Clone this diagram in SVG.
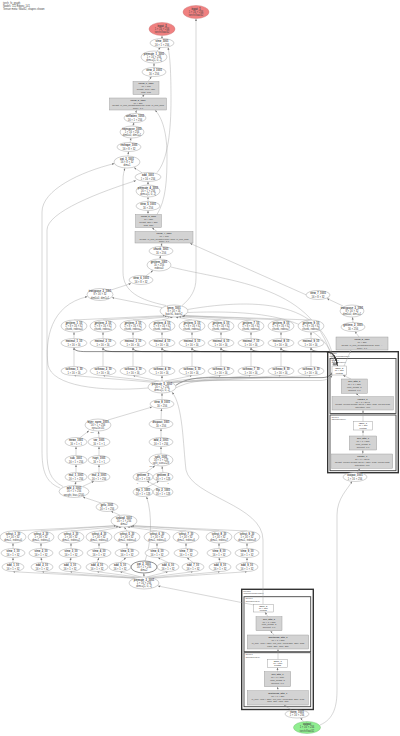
<svg xmlns="http://www.w3.org/2000/svg" width="400" height="736" viewBox="0 0 400 736">
<defs>
<marker id="a" viewBox="0 0 10 10" refX="10" refY="5" markerWidth="2.4" markerHeight="2.4" markerUnits="userSpaceOnUse" orient="auto"><path d="M0,1 L10,5 L0,9z" fill="#777"/></marker>
</defs>
<style>
text{font-family:"Liberation Sans",Arial,sans-serif;font-size:2.6px;fill:#444;text-anchor:middle}
.t{font-weight:bold}
.s{font-size:2.3px}
.e{fill:#fff;stroke:#999;stroke-width:.45}
.g{fill:#d3d3d3;stroke:#999;stroke-width:.45}
.r{fill:#f08080;stroke:#c77;stroke-width:.45}
.o{fill:#90ee90;stroke:#7b7;stroke-width:.45}
.bd{stroke:#555;stroke-width:.65}
.cl{fill:none;stroke:#444;stroke-width:.9}
.co{fill:none;stroke:#333;stroke-width:1.4}
.lab{text-anchor:start;font-size:2.1px}
.hd{text-anchor:start;font-size:2.6px}
#edges path{fill:none;stroke:#999;stroke-width:.4;marker-end:url(#a)}
#edges path.k{stroke:#333;stroke-width:.55}
.el{font-size:2px;fill:#555}
</style>
<rect width="400" height="736" fill="#fff"/>
<g id="header">
<text class="hd" x="3" y="3.5">torch_fx_graph</text>
<text class="hd" x="3" y="6.5">Nodes: 112  Edges: 141</text>
<text class="hd" x="3" y="9.5">Tensor meta: float32, shapes shown</text>
</g>
<g id="clusters">
<rect class="co" x="327.7" y="351.7" width="70.6" height="121"/>
<text class="lab" x="329.3" y="354.4">encoder</text>
<text class="lab" x="329.3" y="356.6">(TransformerEncoder)</text>
<rect class="cl" x="330" y="358.5" width="66" height="55"/>
<text class="lab" x="331.5" y="361.2">layers.0</text>
<text class="lab" x="331.5" y="363.4">(EncoderLayer)</text>
<rect class="cl" x="330" y="415" width="66" height="55.7"/>
<text class="lab" x="331.5" y="417.8">layers.1</text>
<text class="lab" x="331.5" y="420">(EncoderLayer)</text>
<rect class="co" x="241.7" y="589.3" width="71.6" height="120.2"/>
<text class="lab" x="243.3" y="592">decoder</text>
<text class="lab" x="243.3" y="594.2">(TransformerDecoder)</text>
<rect class="cl" x="244" y="596.7" width="66.7" height="55"/>
<text class="lab" x="245.5" y="599.4">layers.0</text>
<text class="lab" x="245.5" y="601.6">(DecoderLayer)</text>
<rect class="cl" x="244" y="652.7" width="66.7" height="54"/>
<text class="lab" x="245.5" y="655.4">layers.1</text>
<text class="lab" x="245.5" y="657.6">(DecoderLayer)</text>
</g>
<g id="edges">
<path d="M162,38.5 L162,35.8"/>
<path d="M157,51.2 L160.5,47.3"/>
<path d="M154,67.5 L154,63.2"/>
<path d="M148,81.5 L151.5,76.5"/>
<path d="M141,98 L144.5,94.5"/>
<path d="M135.5,113.5 L136.5,110.2"/>
<path d="M133,126 L134,122.5"/>
<path d="M130,142.5 L131,138"/>
<path d="M128,156 L128.5,151.5"/>
<path d="M142,172.8 L134,167.5"/>
<path d="M148,185 L148,181.5"/>
<path d="M148,201.5 L148,197"/>
<path d="M148,214.5 L148,210.5"/>
<path d="M157,231.5 L152,227.7"/>
<path d="M161,246.5 L162,243.2"/>
<path d="M160,259 L160.5,255.5"/>
<path d="M146,275.8 L153,270.5"/>
<path d="M111,290 L131,283.5"/>
<path d="M162,307.6 L112,297.6"/>
<path d="M182,305.6 C191,298 196,290 196,278 L196,18.6"/>
<path d="M157,172.6 C168,160 171,130 171,100 C171,72 170,56 168,47.4"/>
<path d="M157,214.5 C166,200 167,180 167,155 C167,128 160,115 155,110.2"/>
<path d="M166,305.5 C140,300 123,292 123,272 L123,180 C123,175 124,171 125,168.2"/>
<path d="M60,488 C45,482 42,470 42,450 L42,212 C42,190 80,172 114.5,163.5"/>
<path d="M63,486.5 C50,480 47,470 47,452 L47,230 C47,212 100,192 136,180.6"/>
<path d="M148,388 C100,392 52,386 48,365 C45,340 50,305 87.5,296.6"/>
<path d="M306.5,295 L190,243.3"/>
<path d="M343,306 L327,298.5"/>
<path d="M353,322.5 L352.5,317.2"/>
<path d="M359,337 L355,331.4"/>
<path d="M344,366 L351,350.2"/>
<path d="M351,379 L343,375.2"/>
<path d="M360,396.7 L356,393.5"/>
<path d="M363,421.7 L363,410.2"/>
<path d="M363,436 L363,430.2"/>
<path d="M362.5,454 L363,450.2"/>
<path d="M357,472.6 L360,468.5"/>
<path d="M320,725 C334,719 337,706 337,690 L337,515 C337,498 348,489 352,481.3"/>
<path d="M268,616.7 L265,612.2"/>
<path d="M274,635 L270.5,630.9"/>
<path d="M278,659.3 L278,649.2"/>
<path d="M277.5,671.7 L277.5,667.5"/>
<path d="M278,690.7 L277.5,686.9"/>
<path d="M292,710.3 L284,705.2"/>
<path d="M303.5,721.6 L300.5,717.8"/>
<path d="M254,605 L158,586"/>
<path d="M263,604.3 L263,540 C263,505 192,497 186,470 C183,445 183,405 172,392.2"/>
<path class="k" d="M74,347.5 C74,350.5 78,351.6 86,351.6 L326,351.6 C332,351.6 336,356 337.5,365.8"/>
<path class="k" d="M103,347.5 C103,350.5 107,351.6 115,351.6 L326,351.6 C332,351.6 336,356 337.5,365.8"/>
<path class="k" d="M133,347.5 C133,350.5 137,351.6 145,351.6 L326,351.6 C332,351.6 336,356 337.5,365.8"/>
<path class="k" d="M162,347.5 C162,350.5 166,351.6 174,351.6 L326,351.6 C332,351.6 336,356 337.5,365.8"/>
<path class="k" d="M192,347.5 C192,350.5 196,351.6 204,351.6 L326,351.6 C332,351.6 336,356 337.5,365.8"/>
<path class="k" d="M221,347.5 C221,350.5 225,351.6 233,351.6 L326,351.6 C332,351.6 336,356 337.5,365.8"/>
<path class="k" d="M251,347.5 C251,350.5 255,351.6 263,351.6 L326,351.6 C332,351.6 336,356 337.5,365.8"/>
<path class="k" d="M281,347.5 C281,350.5 285,351.6 293,351.6 L326,351.6 C332,351.6 336,356 337.5,365.8"/>
<path class="k" d="M311,347.5 C311,350.5 315,351.6 321,351.6 L326,351.6 C332,351.6 336,356 337.5,365.8"/>
<path d="M187.5,309.5 C260,297 328,302 334.5,365.8"/>
<path d="M187.5,312.5 C255,310 326,315 335.5,365.8"/>
<path d="M171,267 C230,282 318,284 333.5,365.8"/>
<path class="k" d="M175.5,385.5 C186,378.5 196,377.6 215,377.6 L322,377.6 C328,377.6 331,375 332,372.5"/>
<path d="M175.5,388 C190,381 200,380.5 220,380.5 L320,380.5 C327,380.5 331,377 332.2,375.2"/>
<path d="M74,320 L165,315.6"/>
<path d="M103,320 L167,316.2"/>
<path d="M133,320 L169.9,316.7"/>
<path d="M162,320 L172.8,317"/>
<path d="M192,320 L175.8,317"/>
<path d="M221,320 L178.7,316.6"/>
<path d="M251,320 L181.7,316"/>
<path d="M281,320 L183,315.6"/>
<path d="M311,320 L183,315.6"/>
<path d="M74,338.5 L74,332.2"/>
<path d="M103,338.5 L103,332.2"/>
<path d="M133,338.5 L133,332.2"/>
<path d="M162,338.5 L162,332.2"/>
<path d="M192,338.5 L192,332.2"/>
<path d="M221,338.5 L221,332.2"/>
<path d="M251,338.5 L251,332.2"/>
<path d="M281,338.5 L281,332.2"/>
<path d="M311,338.5 L311,332.2"/>
<path d="M74,366.5 L74,347.7"/>
<path d="M103,366.5 L103,347.7"/>
<path d="M133,366.5 L133,347.7"/>
<path d="M162,366.5 L162,347.7"/>
<path d="M192,366.5 L192,347.7"/>
<path d="M221,366.5 L221,347.7"/>
<path d="M251,366.5 L251,347.7"/>
<path d="M281,366.5 L281,347.7"/>
<path d="M311,366.5 L311,347.7"/>
<path d="M153.2,382.3 L74,375.6"/>
<path d="M156.1,381.6 L103,375.6"/>
<path d="M159.1,381.1 L133,375.6"/>
<path d="M162,381 L162,375.6"/>
<path d="M165,381.1 L192,375.6"/>
<path d="M167.9,381.6 L221,375.6"/>
<path d="M170.9,382.4 L251,375.6"/>
<path d="M171,382.4 L281,375.6"/>
<path d="M171,382.4 L311,375.6"/>
<path d="M162,399.5 L162,393.2"/>
<path d="M108,420 L152,407"/>
<path d="M161,419.5 L161.5,408.7"/>
<path d="M80,437.7 L89,430.7"/>
<path d="M99,437.5 L98.5,431.2"/>
<path d="M161,437.5 L161,428.7"/>
<path d="M76,455.5 L76,446.7"/>
<path d="M99,455.5 L99,446.7"/>
<path d="M161,454 L161,446.7"/>
<path d="M76,472.5 L76,464.7"/>
<path d="M99,472.5 L99,464.7"/>
<path d="M146,472.7 L155,465.7"/>
<path d="M163,472.5 L162,466.2"/>
<path d="M75,485.5 L76,481.7"/>
<path d="M83,486.3 L94,481.2"/>
<path d="M146,487.8 L159,481"/>
<path d="M160,487.8 L147,481"/>
<path d="M101,503 L83,497"/>
<path d="M120,515.2 L111,511.2"/>
<path d="M13,531 L116,525.7"/>
<path d="M41,531 L116,525.7"/>
<path d="M71,531 L118.7,526.5"/>
<path d="M99,531 L121.5,526.9"/>
<path d="M127,531 L124.3,527.1"/>
<path d="M157,531 L127.3,526.8"/>
<path d="M186,531 L130.2,526.3"/>
<path d="M219,531 L132,525.7"/>
<path d="M247,531 L132,525.7"/>
<path d="M13,548.5 L13,543.2"/>
<path d="M41,548.5 L41,543.2"/>
<path d="M71,548.5 L71,543.2"/>
<path d="M99,548.5 L99,543.2"/>
<path d="M127,548.5 L127,543.2"/>
<path d="M157,548.5 L157,543.2"/>
<path d="M186,548.5 L186,543.2"/>
<path d="M219,548.5 L219,543.2"/>
<path d="M247,548.5 L247,543.2"/>
<path d="M13,562.5 L13,557.7"/>
<path d="M42,562.5 L41,557.7"/>
<path d="M70,562.5 L71,557.7"/>
<path d="M97,562.5 L99,557.7"/>
<path d="M120,562.5 L126,557.7"/>
<path d="M168,562.5 L158,557.7"/>
<path d="M193,562.5 L187,557.7"/>
<path d="M220,562.5 L219,557.7"/>
<path d="M247,562.5 L247,557.7"/>
<path d="M135,578.2 L13,571.7"/>
<path d="M135,578.2 L42,571.7"/>
<path d="M136.6,577.8 L70,571.7"/>
<path d="M139.3,577.3 L97,571.7"/>
<path d="M141.6,577.1 L120,571.7"/>
<path d="M146.4,577.1 L168,571.7"/>
<path d="M148.9,577.3 L193,571.7"/>
<path d="M151.6,577.8 L220,571.7"/>
<path d="M153,578.2 L247,571.7"/>
<path d="M144,577 L143.8,573.3"/>
<path d="M145,561 C151,545 153,515 146.5,496.7"/>
<text class="el" x="92" y="433">self</text>
<text class="el" x="151" y="467">dim</text>
<text class="el" x="137.5" y="484">0</text>
<text class="el" x="168" y="484">1</text>
</g>
<g id="input_1"><ellipse class="r" cx="196" cy="12" rx="13" ry="6.5"/><text class="t" x="196" y="9.8">input_1</text><text x="196" y="12.9">1 × 16 × 256</text><text x="196" y="16">torch.float32</text></g>
<g id="input_2"><ellipse class="r" cx="162" cy="29" rx="13" ry="6.5"/><text class="t" x="162" y="26.8">input_2</text><text x="162" y="29.9">1 × 16 × 256</text><text x="162" y="33">torch.float32</text></g>
<g id="view_1001"><ellipse class="e" cx="162" cy="43" rx="12" ry="4.5"/><text class="t" x="162" y="42.4">view_1001</text><text x="162" y="45.5">16 × 1 × 256</text></g>
<g id="permute_1_1001"><ellipse class="e" cx="154" cy="57" rx="13" ry="6"/><text class="t" x="154" y="54.8">permute_1_1001</text><text x="154" y="57.9">1 × 16 × 256</text><text x="154" y="61">dims=[1, 0, 2]</text></g>
<g id="view_2_1001"><ellipse class="e" cx="154" cy="72" rx="12" ry="4.5"/><text class="t" x="154" y="71.4">view_2_1001</text><text x="154" y="74.5">16 × 256</text></g>
<g id="linear_1_1001"><rect class="g" x="133" y="81.5" width="26" height="13"/><text class="t s" x="146" y="84.4">linear_1_1001</text><text class="s" x="146" y="87.3">16 × 768</text><text class="s" x="146" y="90.2">weight=768 × 256</text><text class="s" x="146" y="93.1">bias=768</text></g>
<g id="linear_2_1001"><rect class="g" x="109.5" y="98" width="57" height="12"/><text class="t s" x="138" y="100.7">linear_2_1001</text><text class="s" x="138" y="103.5">16 × 256</text><text class="s" x="138" y="106.3">weight=in_proj_weight[512:768], bias=in_proj_bias</text><text class="s" x="138" y="109.1">scale=1.0</text></g>
<g id="unflatten_1001"><ellipse class="e" cx="135" cy="118" rx="11" ry="4.5"/><text class="t" x="135" y="117.4">unflatten_1001</text><text x="135" y="120.5">16 × 1 × 256</text></g>
<g id="transpose_1001"><ellipse class="e" cx="132" cy="132" rx="12" ry="6"/><text class="t" x="132" y="129.8">transpose_1001</text><text x="132" y="132.9">1 × 16 × 256</text><text x="132" y="136">dim0=0, dim1=1</text></g>
<g id="reshape_1001"><ellipse class="e" cx="129" cy="147" rx="12" ry="4.5"/><text class="t" x="129" y="146.4">reshape_1001</text><text x="129" y="149.5">16 × 8 × 32</text></g>
<g id="cat_3_1001"><ellipse class="e" cx="127" cy="162" rx="13" ry="6"/><text class="t" x="127" y="159.8">cat_3_1001</text><text x="127" y="162.9">16 × 8 × 32</text><text x="127" y="166">dim=1</text></g>
<g id="add_1001"><ellipse class="e" cx="148" cy="177" rx="13" ry="4.5"/><text class="t" x="148" y="176.4">add_1001</text><text x="148" y="179.5">1 × 16 × 256</text></g>
<g id="permute_4_1001"><ellipse class="e" cx="148" cy="191" rx="12" ry="6"/><text class="t" x="148" y="188.8">permute_4_1001</text><text x="148" y="191.9">16 × 1 × 256</text><text x="148" y="195">dims=[1, 0, 2]</text></g>
<g id="view_5_1001"><ellipse class="e" cx="148" cy="206" rx="12" ry="4.5"/><text class="t" x="148" y="205.4">view_5_1001</text><text x="148" y="208.5">16 × 256</text></g>
<g id="linear_3_1001"><rect class="g" x="135.5" y="214.5" width="26" height="13"/><text class="t s" x="148.5" y="217.4">linear_3_1001</text><text class="s" x="148.5" y="220.3">16 × 256</text><text class="s" x="148.5" y="223.2">weight=256 × 256</text><text class="s" x="148.5" y="226.1">bias=256</text></g>
<g id="linear_4_1001"><rect class="g" x="135" y="231.5" width="58" height="11.5"/><text class="t s" x="164" y="234.1">linear_4_1001</text><text class="s" x="164" y="236.8">16 × 768</text><text class="s" x="164" y="239.5">weight=in_proj_weight[0:768], bias=in_proj_bias</text><text class="s" x="164" y="242.2">scale=1.0</text></g>
<g id="chunk_1001"><ellipse class="e" cx="161" cy="251" rx="12" ry="4.5"/><text class="t" x="161" y="250.4">chunk_1001</text><text x="161" y="253.5">16 × 256</text></g>
<g id="getitem_1001"><ellipse class="e" cx="159" cy="265" rx="12" ry="6"/><text class="t" x="159" y="262.8">getitem_1001</text><text x="159" y="265.9">16 × 256</text><text x="159" y="269">index=0</text></g>
<g id="view_6_1001"><ellipse class="e" cx="141" cy="280" rx="12" ry="4.5"/><text class="t" x="141" y="279.4">view_6_1001</text><text x="141" y="282.5">16 × 8 × 32</text></g>
<g id="transpose_2_1001"><ellipse class="e" cx="100" cy="294.5" rx="13" ry="6"/><text class="t" x="100" y="292.3">transpose_2_1001</text><text x="100" y="295.4">8 × 16 × 32</text><text x="100" y="298.5">dim0=0, dim1=1</text></g>
<g id="bmm_1001"><ellipse class="e" cx="174" cy="311" rx="14" ry="6"/><text class="t" x="174" y="308.8">bmm_1001</text><text x="174" y="311.9">8 × 16 × 16</text><text x="174" y="315">batch1, batch2</text></g>
<g id="view_7_1001"><ellipse class="e" cx="318" cy="295" rx="12" ry="4.5"/><text class="t" x="318" y="294.4">view_7_1001</text><text x="318" y="297.5">16 × 8 × 32</text></g>
<g id="transpose_3_1001"><ellipse class="e" cx="352" cy="311" rx="12" ry="6"/><text class="t" x="352" y="308.8">transpose_3_1001</text><text x="352" y="311.9">8 × 16 × 32</text><text x="352" y="315">dim0=0, dim1=1</text></g>
<g id="getitem_2_1001"><ellipse class="e" cx="353" cy="327" rx="12" ry="4.5"/><text class="t" x="353" y="326.4">getitem_2_1001</text><text x="353" y="329.5">16 × 256</text></g>
<g id="linear_5_1001"><rect class="g" x="336" y="337" width="52" height="13"/><text class="t s" x="362" y="339.9">linear_5_1001</text><text class="s" x="362" y="342.8">16 × 256</text><text class="s" x="362" y="345.7">weight=in_proj_weight[256:512], bias=...</text><text class="s" x="362" y="348.6">scale=1.0</text></g>
<g id="enc0_input"><rect class="e" x="332" y="366" width="14.7" height="9"/><text class="t s" x="339.3" y="368.5">layer_0</text><text class="s" x="339.3" y="371.1">16 × 256</text><text class="s" x="339.3" y="373.7">float32</text></g>
<g id="enc0_self_attn"><rect class="g" x="341.3" y="379" width="26" height="14.3"/><text class="t s" x="354.3" y="382">self_attn_0</text><text class="s" x="354.3" y="384.9">16 × 1 × 256</text><text class="s" x="354.3" y="387.8">num_heads=8</text><text class="s" x="354.3" y="390.7">dropout=0.0</text></g>
<g id="enc0_ffn"><rect class="g" x="332" y="396.7" width="61.3" height="13.3"/><text class="t s" x="362.6" y="399.6">linear1_0</text><text class="s" x="362.6" y="402.5">16 × 1 × 2048</text><text class="s" x="362.6" y="405.4">weight=linear1.weight (2048 × 256), bias=linear1.bias</text><text class="s" x="362.6" y="408.3">activation=relu</text></g>
<g id="enc1_input"><rect class="e" x="353.3" y="421.7" width="19.4" height="8.3"/><text class="t s" x="363" y="424">layer_1</text><text class="s" x="363" y="426.4">16 × 256</text><text class="s" x="363" y="428.8">float32</text></g>
<g id="enc1_self_attn"><rect class="g" x="349.3" y="436" width="27.4" height="14"/><text class="t s" x="363" y="438.9">self_attn_1</text><text class="s" x="363" y="441.8">16 × 1 × 256</text><text class="s" x="363" y="444.7">num_heads=8</text><text class="s" x="363" y="447.6">dropout=0.0</text></g>
<g id="enc1_ffn"><rect class="g" x="331.7" y="454" width="61" height="14.3"/><text class="t s" x="362.2" y="457">linear1_1</text><text class="s" x="362.2" y="459.9">16 × 1 × 2048</text><text class="s" x="362.2" y="462.8">weight=linear1.weight (2048 × 256), bias=linear1.bias</text><text class="s" x="362.2" y="465.7">activation=relu</text></g>
<g id="encoder_out"><ellipse class="e" cx="355" cy="477" rx="12" ry="4.5"/><text class="t" x="355" y="476.4">output_1001</text><text x="355" y="479.5">1 × 16 × 256</text></g>
<g id="dec0_input"><rect class="e" x="253.3" y="604.3" width="20" height="7.7"/><text class="t s" x="263.3" y="606.5">layer_0</text><text class="s" x="263.3" y="608.8">16 × 256</text><text class="s" x="263.3" y="611.1">float32</text></g>
<g id="dec0_attn"><rect class="g" x="256" y="616.7" width="26" height="14"/><text class="t s" x="269" y="619.6">self_attn_0</text><text class="s" x="269" y="622.5">16 × 1 × 256</text><text class="s" x="269" y="625.4">num_heads=8</text><text class="s" x="269" y="628.3">dropout=0.0</text></g>
<g id="dec0_ffn"><rect class="g" x="247.3" y="635" width="61.4" height="14"/><text class="t s" x="278" y="637.9">multihead_attn_0</text><text class="s" x="278" y="640.8">16 × 1 × 256</text><text class="s" x="278" y="643.7">in_proj=(768 × 256), out_proj=linear(256, 256), bias</text><text class="s" x="278" y="646.6">kdim=256, vdim=256</text></g>
<g id="dec1_input"><rect class="e" x="267.7" y="659.3" width="20" height="8"/><text class="t s" x="277.7" y="661.6">layer_1</text><text class="s" x="277.7" y="663.9">16 × 256</text><text class="s" x="277.7" y="666.2">float32</text></g>
<g id="dec1_attn"><rect class="g" x="264.3" y="671.7" width="26.4" height="15"/><text class="t s" x="277.5" y="674.7">self_attn_1</text><text class="s" x="277.5" y="677.7">16 × 1 × 256</text><text class="s" x="277.5" y="680.7">num_heads=8</text><text class="s" x="277.5" y="683.7">dropout=0.0</text></g>
<g id="dec1_ffn"><rect class="g" x="247.3" y="690.7" width="61" height="14.3"/><text class="t s" x="277.8" y="693.7">multihead_attn_1</text><text class="s" x="277.8" y="696.6">16 × 1 × 256</text><text class="s" x="277.8" y="699.5">in_proj=(768 × 256), out_proj=linear(256, 256), bias</text><text class="s" x="277.8" y="702.4">kdim=256, vdim=256</text></g>
<g id="decoder_out"><ellipse class="e" cx="297" cy="714" rx="12" ry="4"/><text class="t" x="297" y="713.4">norm_1001</text><text x="297" y="716.4">1 × 16 × 256</text></g>
<g id="output"><ellipse class="o" cx="307" cy="727.5" rx="13.5" ry="6"/><text class="t" x="307" y="725.3">output</text><text x="307" y="728.4">1 × 16 × 256</text><text x="307" y="731.5">torch.float32</text></g>
<g id="getitem_row">
<ellipse class="e" cx="74" cy="326" rx="13" ry="6"/><text class="t" x="74" y="323.8">getitem_1_10</text><text x="74" y="326.9">1 × 8 × 16 × 32</text><text x="74" y="330">chunk, index=0</text>
<ellipse class="e" cx="103" cy="326" rx="13" ry="6"/><text class="t" x="103" y="323.8">getitem_2_10</text><text x="103" y="326.9">1 × 8 × 16 × 32</text><text x="103" y="330">chunk, index=1</text>
<ellipse class="e" cx="133" cy="326" rx="13" ry="6"/><text class="t" x="133" y="323.8">getitem_3_10</text><text x="133" y="326.9">1 × 8 × 16 × 32</text><text x="133" y="330">chunk, index=2</text>
<ellipse class="e" cx="162" cy="326" rx="13" ry="6"/><text class="t" x="162" y="323.8">getitem_4_10</text><text x="162" y="326.9">1 × 8 × 16 × 32</text><text x="162" y="330">chunk, index=3</text>
<ellipse class="e" cx="192" cy="326" rx="13" ry="6"/><text class="t" x="192" y="323.8">getitem_5_10</text><text x="192" y="326.9">1 × 8 × 16 × 32</text><text x="192" y="330">chunk, index=4</text>
<ellipse class="e" cx="221" cy="326" rx="13" ry="6"/><text class="t" x="221" y="323.8">getitem_6_10</text><text x="221" y="326.9">1 × 8 × 16 × 32</text><text x="221" y="330">chunk, index=5</text>
<ellipse class="e" cx="251" cy="326" rx="13" ry="6"/><text class="t" x="251" y="323.8">getitem_7_10</text><text x="251" y="326.9">1 × 8 × 16 × 32</text><text x="251" y="330">chunk, index=6</text>
<ellipse class="e" cx="281" cy="326" rx="13" ry="6"/><text class="t" x="281" y="323.8">getitem_8_10</text><text x="281" y="326.9">1 × 8 × 16 × 32</text><text x="281" y="330">chunk, index=7</text>
<ellipse class="e" cx="311" cy="326" rx="13" ry="6"/><text class="t" x="311" y="323.8">getitem_9_10</text><text x="311" y="326.9">1 × 8 × 16 × 32</text><text x="311" y="330">chunk, index=8</text>
</g>
<g id="matmul_row">
<ellipse class="e" cx="74" cy="343" rx="13" ry="4.5"/><text class="t" x="74" y="342.4">matmul_1_10</text><text x="74" y="345.5">1 × 16 × 16</text>
<ellipse class="e" cx="103" cy="343" rx="13" ry="4.5"/><text class="t" x="103" y="342.4">matmul_2_10</text><text x="103" y="345.5">1 × 16 × 16</text>
<ellipse class="e" cx="133" cy="343" rx="13" ry="4.5"/><text class="t" x="133" y="342.4">matmul_3_10</text><text x="133" y="345.5">1 × 16 × 16</text>
<ellipse class="e" cx="162" cy="343" rx="13" ry="4.5"/><text class="t" x="162" y="342.4">matmul_4_10</text><text x="162" y="345.5">1 × 16 × 16</text>
<ellipse class="e" cx="192" cy="343" rx="13" ry="4.5"/><text class="t" x="192" y="342.4">matmul_5_10</text><text x="192" y="345.5">1 × 16 × 16</text>
<ellipse class="e" cx="221" cy="343" rx="13" ry="4.5"/><text class="t" x="221" y="342.4">matmul_6_10</text><text x="221" y="345.5">1 × 16 × 16</text>
<ellipse class="e" cx="251" cy="343" rx="13" ry="4.5"/><text class="t" x="251" y="342.4">matmul_7_10</text><text x="251" y="345.5">1 × 16 × 16</text>
<ellipse class="e" cx="281" cy="343" rx="13" ry="4.5"/><text class="t" x="281" y="342.4">matmul_8_10</text><text x="281" y="345.5">1 × 16 × 16</text>
<ellipse class="e" cx="311" cy="343" rx="13" ry="4.5"/><text class="t" x="311" y="342.4">matmul_9_10</text><text x="311" y="345.5">1 × 16 × 16</text>
</g>
<g id="softmax_row">
<ellipse class="e" cx="74" cy="371" rx="13" ry="4.5"/><text class="t" x="74" y="370.4">softmax_1_10</text><text x="74" y="373.5">1 × 16 × 16</text>
<ellipse class="e" cx="103" cy="371" rx="13" ry="4.5"/><text class="t" x="103" y="370.4">softmax_2_10</text><text x="103" y="373.5">1 × 16 × 16</text>
<ellipse class="e" cx="133" cy="371" rx="13" ry="4.5"/><text class="t" x="133" y="370.4">softmax_3_10</text><text x="133" y="373.5">1 × 16 × 16</text>
<ellipse class="e" cx="162" cy="371" rx="13" ry="4.5"/><text class="t" x="162" y="370.4">softmax_4_10</text><text x="162" y="373.5">1 × 16 × 16</text>
<ellipse class="e" cx="192" cy="371" rx="13" ry="4.5"/><text class="t" x="192" y="370.4">softmax_5_10</text><text x="192" y="373.5">1 × 16 × 16</text>
<ellipse class="e" cx="221" cy="371" rx="13" ry="4.5"/><text class="t" x="221" y="370.4">softmax_6_10</text><text x="221" y="373.5">1 × 16 × 16</text>
<ellipse class="e" cx="251" cy="371" rx="13" ry="4.5"/><text class="t" x="251" y="370.4">softmax_7_10</text><text x="251" y="373.5">1 × 16 × 16</text>
<ellipse class="e" cx="281" cy="371" rx="13" ry="4.5"/><text class="t" x="281" y="370.4">softmax_8_10</text><text x="281" y="373.5">1 × 16 × 16</text>
<ellipse class="e" cx="311" cy="371" rx="13" ry="4.5"/><text class="t" x="311" y="370.4">softmax_9_10</text><text x="311" y="373.5">1 × 16 × 16</text>
</g>
<g id="permute_5_1001"><ellipse class="e" cx="162" cy="387" rx="14" ry="6"/><text class="t" x="162" y="384.8">permute_5_1001</text><text x="162" y="387.9">16 × 1 × 256</text><text x="162" y="391">dims=[1, 0, 2]</text></g>
<g id="view_8_1001"><ellipse class="e" cx="162" cy="404" rx="12" ry="4.5"/><text class="t" x="162" y="403.4">view_8_1001</text><text x="162" y="406.5">16 × 256</text></g>
<g id="layer_norm_1001"><ellipse class="e" cx="98" cy="425" rx="13" ry="6"/><text class="t" x="98" y="422.8">layer_norm_1001</text><text x="98" y="425.9">16 × 1 × 256</text><text x="98" y="429">eps=1e-05</text></g>
<g id="dropout_1001"><ellipse class="e" cx="161" cy="424" rx="12" ry="4.5"/><text class="t" x="161" y="423.4">dropout_1001</text><text x="161" y="426.5">16 × 256</text></g>
<g id="mean_1001"><ellipse class="e" cx="76" cy="442" rx="11" ry="4.5"/><text class="t" x="76" y="441.4">mean_1001</text><text x="76" y="444.5">16 × 1 × 1</text></g>
<g id="var_1001"><ellipse class="e" cx="99" cy="442" rx="11" ry="4.5"/><text class="t" x="99" y="441.4">var_1001</text><text x="99" y="444.5">16 × 1 × 1</text></g>
<g id="add_2_1001"><ellipse class="e" cx="161" cy="442" rx="12" ry="4.5"/><text class="t" x="161" y="441.4">add_2_1001</text><text x="161" y="444.5">16 × 1 × 256</text></g>
<g id="sub_1001"><ellipse class="e" cx="76" cy="460" rx="11" ry="4.5"/><text class="t" x="76" y="459.4">sub_1001</text><text x="76" y="462.5">16 × 1 × 256</text></g>
<g id="rsqrt_1001"><ellipse class="e" cx="99" cy="460" rx="11" ry="4.5"/><text class="t" x="99" y="459.4">rsqrt_1001</text><text x="99" y="462.5">16 × 1 × 1</text></g>
<g id="split_1001"><ellipse class="e" cx="161" cy="460" rx="12" ry="6"/><text class="t" x="161" y="457.8">split_1001</text><text x="161" y="460.9">16 × 1 × 128</text><text x="161" y="464">split_size=128</text></g>
<g id="mul_1_1001"><ellipse class="e" cx="76" cy="477" rx="11" ry="4.5"/><text class="t" x="76" y="476.4">mul_1_1001</text><text x="76" y="479.5">16 × 1 × 256</text></g>
<g id="mul_2_1001"><ellipse class="e" cx="99" cy="477" rx="11" ry="4.5"/><text class="t" x="99" y="476.4">mul_2_1001</text><text x="99" y="479.5">16 × 1 × 256</text></g>
<g id="getitem_3_1001"><ellipse class="e" cx="143" cy="477" rx="10" ry="4.5"/><text class="t" x="143" y="476.4">getitem_3</text><text x="143" y="479.5">16 × 1 × 128</text></g>
<g id="getitem_4_1001"><ellipse class="e" cx="163" cy="477" rx="10" ry="4.5"/><text class="t" x="163" y="476.4">getitem_4</text><text x="163" y="479.5">16 × 1 × 128</text></g>
<g id="add_3_1001"><ellipse class="e" cx="74" cy="491.5" rx="15" ry="6"/><text class="t" x="74" y="489.3">add_3_1001</text><text x="74" y="492.4">16 × 1 × 256</text><text x="74" y="495.5">weight, bias (256)</text></g>
<g id="flip_1_1001"><ellipse class="e" cx="143" cy="492" rx="10" ry="4.5"/><text class="t" x="143" y="491.4">flip_1_1001</text><text x="143" y="494.5">16 × 1 × 128</text></g>
<g id="flip_2_1001"><ellipse class="e" cx="163" cy="492" rx="10" ry="4.5"/><text class="t" x="163" y="491.4">flip_2_1001</text><text x="163" y="494.5">16 × 1 × 128</text></g>
<g id="gelu_1001"><ellipse class="e" cx="107" cy="507" rx="11" ry="4.5"/><text class="t" x="107" y="506.4">gelu_1001</text><text x="107" y="509.5">16 × 1 × 256</text></g>
<g id="split_2_1001"><ellipse class="e" cx="124" cy="521" rx="13" ry="6"/><text class="t" x="124" y="518.8">unbind_1001</text><text x="124" y="521.9">16 × 1 × 256</text><text x="124" y="525">dim=2</text></g>
<g id="unbind_row">
<ellipse class="e" cx="13" cy="537" rx="13" ry="6"/><text class="t" x="13" y="534.8">select_1_10</text><text x="13" y="537.9">1 × 16 × 32</text><text x="13" y="541">dim=1, index=0</text>
<ellipse class="e" cx="41" cy="537" rx="13" ry="6"/><text class="t" x="41" y="534.8">select_2_10</text><text x="41" y="537.9">1 × 16 × 32</text><text x="41" y="541">dim=1, index=1</text>
<ellipse class="e" cx="71" cy="537" rx="13" ry="6"/><text class="t" x="71" y="534.8">select_3_10</text><text x="71" y="537.9">1 × 16 × 32</text><text x="71" y="541">dim=1, index=2</text>
<ellipse class="e" cx="99" cy="537" rx="13" ry="6"/><text class="t" x="99" y="534.8">select_4_10</text><text x="99" y="537.9">1 × 16 × 32</text><text x="99" y="541">dim=1, index=3</text>
<ellipse class="e" cx="127" cy="537" rx="13" ry="6"/><text class="t" x="127" y="534.8">select_5_10</text><text x="127" y="537.9">1 × 16 × 32</text><text x="127" y="541">dim=1, index=4</text>
<ellipse class="e" cx="157" cy="537" rx="13" ry="6"/><text class="t" x="157" y="534.8">select_6_10</text><text x="157" y="537.9">1 × 16 × 32</text><text x="157" y="541">dim=1, index=5</text>
<ellipse class="e" cx="186" cy="537" rx="13" ry="6"/><text class="t" x="186" y="534.8">select_7_10</text><text x="186" y="537.9">1 × 16 × 32</text><text x="186" y="541">dim=1, index=6</text>
<ellipse class="e" cx="219" cy="537" rx="13" ry="6"/><text class="t" x="219" y="534.8">select_8_10</text><text x="219" y="537.9">1 × 16 × 32</text><text x="219" y="541">dim=1, index=7</text>
<ellipse class="e" cx="247" cy="537" rx="13" ry="6"/><text class="t" x="247" y="534.8">select_9_10</text><text x="247" y="537.9">1 × 16 × 32</text><text x="247" y="541">dim=1, index=8</text>
</g>
<g id="view_row">
<ellipse class="e" cx="13" cy="553" rx="12" ry="4.5"/><text class="t" x="13" y="552.4">view_1_10</text><text x="13" y="555.5">16 × 1 × 32</text>
<ellipse class="e" cx="41" cy="553" rx="12" ry="4.5"/><text class="t" x="41" y="552.4">view_2_10</text><text x="41" y="555.5">16 × 1 × 32</text>
<ellipse class="e" cx="71" cy="553" rx="12" ry="4.5"/><text class="t" x="71" y="552.4">view_3_10</text><text x="71" y="555.5">16 × 1 × 32</text>
<ellipse class="e" cx="99" cy="553" rx="12" ry="4.5"/><text class="t" x="99" y="552.4">view_4_10</text><text x="99" y="555.5">16 × 1 × 32</text>
<ellipse class="e" cx="127" cy="553" rx="12" ry="4.5"/><text class="t" x="127" y="552.4">view_5_10</text><text x="127" y="555.5">16 × 1 × 32</text>
<ellipse class="e" cx="157" cy="553" rx="12" ry="4.5"/><text class="t" x="157" y="552.4">view_6_10</text><text x="157" y="555.5">16 × 1 × 32</text>
<ellipse class="e" cx="186" cy="553" rx="12" ry="4.5"/><text class="t" x="186" y="552.4">view_7_10</text><text x="186" y="555.5">16 × 1 × 32</text>
<ellipse class="e" cx="219" cy="553" rx="12" ry="4.5"/><text class="t" x="219" y="552.4">view_8_10</text><text x="219" y="555.5">16 × 1 × 32</text>
<ellipse class="e" cx="247" cy="553" rx="12" ry="4.5"/><text class="t" x="247" y="552.4">view_9_10</text><text x="247" y="555.5">16 × 1 × 32</text>
</g>
<g id="add_row">
<ellipse class="e" cx="13" cy="567" rx="11" ry="4.5"/><text class="t" x="13" y="566.4">add_1_10</text><text x="13" y="569.5">16 × 1 × 32</text>
<ellipse class="e" cx="42" cy="567" rx="11" ry="4.5"/><text class="t" x="42" y="566.4">add_2_10</text><text x="42" y="569.5">16 × 1 × 32</text>
<ellipse class="e" cx="70" cy="567" rx="11" ry="4.5"/><text class="t" x="70" y="566.4">add_3_10</text><text x="70" y="569.5">16 × 1 × 32</text>
<ellipse class="e" cx="97" cy="567" rx="11" ry="4.5"/><text class="t" x="97" y="566.4">add_4_10</text><text x="97" y="569.5">16 × 1 × 32</text>
<ellipse class="e" cx="120" cy="567" rx="11" ry="4.5"/><text class="t" x="120" y="566.4">add_5_10</text><text x="120" y="569.5">16 × 1 × 32</text>
<ellipse class="e" cx="168" cy="567" rx="11" ry="4.5"/><text class="t" x="168" y="566.4">add_6_10</text><text x="168" y="569.5">16 × 1 × 32</text>
<ellipse class="e" cx="193" cy="567" rx="11" ry="4.5"/><text class="t" x="193" y="566.4">add_7_10</text><text x="193" y="569.5">16 × 1 × 32</text>
<ellipse class="e" cx="220" cy="567" rx="11" ry="4.5"/><text class="t" x="220" y="566.4">add_8_10</text><text x="220" y="569.5">16 × 1 × 32</text>
<ellipse class="e" cx="247" cy="567" rx="11" ry="4.5"/><text class="t" x="247" y="566.4">add_9_10</text><text x="247" y="569.5">16 × 1 × 32</text>
</g>
<g id="cat_2_1001"><ellipse class="e bd" cx="144" cy="567" rx="13" ry="6"/><text class="t" x="144" y="564.8">cat_2_1001</text><text x="144" y="567.9">16 × 1 × 256</text><text x="144" y="571">dim=2</text></g>
<g id="permute_3_1001"><ellipse class="e" cx="144" cy="583" rx="15" ry="6"/><text class="t" x="144" y="580.8">permute_3_1001</text><text x="144" y="583.9">1 × 16 × 256</text><text x="144" y="587">dims=[1, 0, 2]</text></g>
</svg>
